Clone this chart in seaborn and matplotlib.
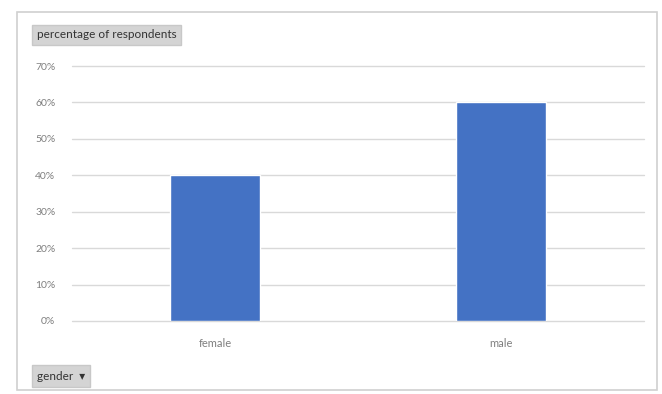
import matplotlib
matplotlib.use('Agg')
import matplotlib.pyplot as plt
from matplotlib.patches import Rectangle
from matplotlib.ticker import PercentFormatter
import seaborn as sns
import pandas as pd

# Data
genders = ['female', 'male']
share = [0.40, 0.60]
y_ticks = [0.0, 0.1, 0.2, 0.3, 0.4, 0.5, 0.6, 0.7]

df = pd.DataFrame({'gender': genders, 'share': share})

sns.set_style('white')
plt.rcParams['font.family'] = ['Lato', 'DejaVu Sans']

fig = plt.figure(figsize=(6.62, 3.94), dpi=100)
fig.patch.set_facecolor('white')

# outer chart frame (Excel chart area)
fig.add_artist(Rectangle((17 / 662, 4 / 394), 640 / 662, 378 / 394, transform=fig.transFigure,
                         fill=False, edgecolor='#d0d0d0', linewidth=1.2))

ax = fig.add_axes([72 / 662, 73 / 394, 572 / 662, 255 / 394])
sns.barplot(data=df, x='gender', y='share', color='#4472C4', width=0.315,
            saturation=1, ax=ax, zorder=3)

ax.set_ylim(0, 0.7)
ax.set_xlim(-0.5, 1.5)
ax.set_yticks(y_ticks)
ax.yaxis.set_major_formatter(PercentFormatter(1.0, decimals=0))
ax.grid(axis='y', color='#d9d9d9', linewidth=1, zorder=0)
ax.set_axisbelow(True)
for gl in ax.get_ygridlines():
    gl.set_clip_on(False)
for s in ax.spines.values():
    s.set_visible(False)
ax.tick_params(axis='y', length=0, pad=12, labelsize=7.5, labelcolor='#7f7f7f')
ax.tick_params(axis='x', length=0, pad=12, labelsize=8, labelcolor='#7f7f7f')
ax.set_xlabel('')
ax.set_ylabel('')

# pivot field buttons
fig.text(37 / 662, 1 - 35 / 394, 'percentage of respondents', fontsize=8.5, color='#333333',
         va='center', ha='left',
         bbox=dict(boxstyle='square,pad=0.4', facecolor='#d4d4d4', edgecolor='#c8c8c8'))
fig.text(37 / 662, 1 - 376 / 394, 'gender  \u25be', fontsize=8.5, color='#333333',
         va='center', ha='left',
         bbox=dict(boxstyle='square,pad=0.45', facecolor='#d4d4d4', edgecolor='#c8c8c8'))

fig.savefig('out.png', dpi=100)
